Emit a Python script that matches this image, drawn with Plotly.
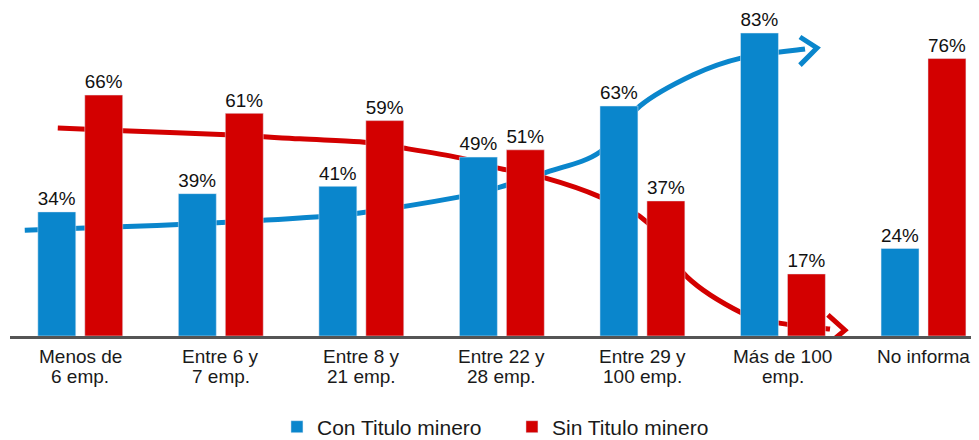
import plotly.graph_objects as go

CATEGORIAS_L1 = ["Menos de", "Entre 6 y", "Entre 8 y", "Entre 22 y", "Entre 29 y", "Más de 100", "No informa"]
CATEGORIAS_L2 = ["6 emp.", "7 emp.", "21 emp.", "28 emp.", "100 emp.", "emp.", ""]
CON_TITULO = [34, 39, 41, 49, 63, 83, 24]
SIN_TITULO = [66, 61, 59, 51, 37, 17, 76]

# flechas de tendencia (x = índice de categoría, y = %)
TEND_CON_X = [-0.395, 0.281, 0.972, 1.562, 1.989, 2.701, 2.986, 3.320, 3.698, 3.982, 4.359, 4.708, 5.157]
TEND_CON_Y = [29.0, 29.9, 31.0, 32.3, 33.7, 38.1, 40.8, 44.9, 50.4, 63.0, 71.5, 76.2, 78.6]
PUNTA_CON_X = [5.121, 5.242, 5.121]
PUNTA_CON_Y = [81.9, 78.9, 74.2]
TEND_SIN_X = [-0.160, 0.302, 1.043, 1.562, 1.989, 2.295, 2.701, 2.972, 3.306, 3.698, 4.039, 4.317, 4.708, 4.964, 5.335]
TEND_SIN_Y = [57.0, 56.2, 55.1, 54.0, 53.2, 51.5, 48.8, 46.0, 43.3, 38.1, 31.0, 16.2, 6.3, 3.6, 1.9]
PUNTA_SIN_X = [5.320, 5.441, 5.313]
PUNTA_SIN_Y = [5.8, 1.6, -2.5]

AZUL = "#0A86CC"
ROJO = "#D30000"
FUENTE = "Liberation Sans, Arial, sans-serif"


def _spline_path(xs, ys):
    """Catmull-Rom -> Bezier cúbica, en coordenadas de datos."""
    pts = list(zip(xs, ys))
    path = f"M {pts[0][0]},{pts[0][1]}"
    for i in range(len(pts) - 1):
        p0 = pts[i - 1] if i > 0 else pts[i]
        p1 = pts[i]
        p2 = pts[i + 1]
        p3 = pts[i + 2] if i + 2 < len(pts) else pts[i + 1]
        c1 = (p1[0] + (p2[0] - p0[0]) / 6, p1[1] + (p2[1] - p0[1]) / 6)
        c2 = (p2[0] - (p3[0] - p1[0]) / 6, p2[1] - (p3[1] - p1[1]) / 6)
        path += f" C {c1[0]},{c1[1]} {c2[0]},{c2[1]} {p2[0]},{p2[1]}"
    return path


def _poly_path(xs, ys):
    return "M " + " L ".join(f"{x},{y}" for x, y in zip(xs, ys))


x = list(range(len(CON_TITULO)))

fig = go.Figure()
fig.add_trace(
    go.Bar(
        x=x,
        y=CON_TITULO,
        name="Con Titulo minero",
        marker_color=AZUL,
        width=0.27,
        offset=-0.302,
        text=[f"{v}%" for v in CON_TITULO],
        textposition="outside",
        textfont=dict(size=20, color="#111111", family=FUENTE),
        cliponaxis=False,
    )
)
fig.add_trace(
    go.Bar(
        x=x,
        y=SIN_TITULO,
        name="Sin Titulo minero",
        marker_color=ROJO,
        width=0.27,
        offset=0.032,
        text=[f"{v}%" for v in SIN_TITULO],
        textposition="outside",
        textfont=dict(size=20, color="#111111", family=FUENTE),
        cliponaxis=False,
    )
)

# Curvas detrás de las barras, puntas delante
for xs, ys, px_, py_, col in [
    (TEND_CON_X, TEND_CON_Y, PUNTA_CON_X, PUNTA_CON_Y, AZUL),
    (TEND_SIN_X, TEND_SIN_Y, PUNTA_SIN_X, PUNTA_SIN_Y, ROJO),
]:
    fig.add_shape(
        type="path", path=_spline_path(xs, ys), xref="x", yref="y",
        line=dict(color=col, width=5), layer="below",
    )
    fig.add_shape(
        type="path", path=_poly_path(px_, py_), xref="x", yref="y",
        line=dict(color=col, width=5), layer="above",
    )

# Etiquetas de categoría (dos líneas)
for i, (l1, l2) in enumerate(zip(CATEGORIAS_L1, CATEGORIAS_L2)):
    for txt, shift in ((l1, -20), (l2, -40)):
        if txt:
            fig.add_annotation(
                x=i, y=0, xref="x", yref="y", text=txt, showarrow=False,
                yanchor="middle", yshift=shift,
                font=dict(size=19, color="#1a1a1a", family=FUENTE),
            )

# la página tiene 8px de margen en body: figura de 971x432
fig.update_layout(
    width=971,
    height=432,
    barmode="overlay",
    plot_bgcolor="white",
    paper_bgcolor="white",
    margin=dict(l=2, r=0, t=2, b=104),
    font=dict(family=FUENTE, color="#1a1a1a"),
    showlegend=True,
    legend=dict(
        orientation="h",
        xref="container",
        yref="container",
        x=0.277,
        xanchor="left",
        y=0.03,
        yanchor="middle",
        font=dict(size=21, family=FUENTE, color="#1a1a1a"),
        entrywidth=190,
    ),
)
fig.update_xaxes(
    range=[-0.5, 6.395],
    showgrid=False,
    zeroline=False,
    showticklabels=False,
    ticks="",
    showline=True,
    linecolor="#555555",
    linewidth=3,
)
fig.update_yaxes(range=[0, 89.3], visible=False)

fig.write_html("out.html")
